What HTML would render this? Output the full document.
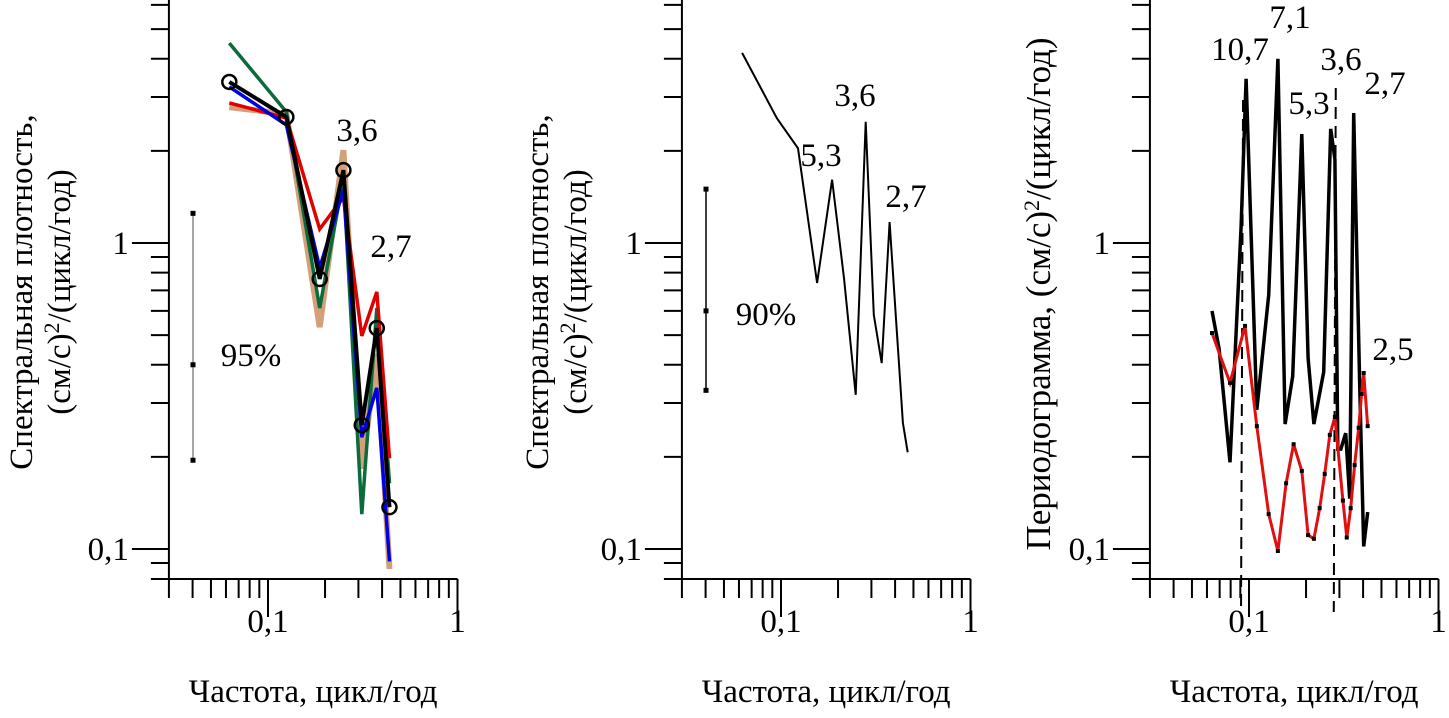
<!DOCTYPE html>
<html><head><meta charset="utf-8"><style>
body{margin:0;background:#fff;}
svg text{font-family:"Liberation Serif",serif;fill:#000;}
</style></head><body>
<svg id="chart" width="1449" height="713" viewBox="0 0 1449 713" xmlns="http://www.w3.org/2000/svg"></svg>
<script>
// Panel 1 data (frequency k/16 cycles/year)
const p1Freq = [0.0625, 0.125, 0.1875, 0.25, 0.3125, 0.375, 0.4375];
const p1Tan = [2.78, 2.64, 0.531, 2.01, 0.183, 0.434, 0.086];
const p1Green = [4.50, 2.68, 0.613, 1.62, 0.130, 0.613, 0.164];
const p1Red = [2.87, 2.56, 1.11, 1.41, 0.497, 0.692, 0.198];
const p1Blue = [3.24, 2.43, 0.829, 1.49, 0.232, 0.336, 0.091];
const p1Black = [3.36, 2.58, 0.763, 1.73, 0.254, 0.527, 0.137];
const p1Err = [1.25, 0.40, 0.195];
// Panel 2 data
const p2Freq = [0.0623, 0.095, 0.123, 0.155, 0.186, 0.215, 0.248, 0.280, 0.309, 0.340, 0.374, 0.44, 0.466];
const p2Vals = [4.18, 2.56, 2.04, 0.740, 1.61, 0.768, 0.319, 2.49, 0.582, 0.405, 1.17, 0.258, 0.207];
const p2Err = [1.5, 0.60, 0.33];
// Panel 3 data
const p3BlackFreq = [0.0638, 0.0695, 0.0794, 0.0908, 0.0965, 0.110, 0.127, 0.142, 0.155, 0.170, 0.190, 0.205, 0.220, 0.248, 0.270, 0.284, 0.294, 0.305, 0.324, 0.340, 0.357, 0.384, 0.403, 0.423];
const p3BlackVals = [0.600, 0.451, 0.192, 1.13, 3.44, 0.285, 0.676, 4.0, 0.256, 0.367, 2.27, 0.421, 0.256, 0.379, 2.36, 1.88, 0.212, 0.212, 0.239, 0.146, 2.66, 0.343, 0.102, 0.132];
const p3RedFreq = [0.0638, 0.0794, 0.0953, 0.110, 0.127, 0.142, 0.157, 0.172, 0.190, 0.205, 0.220, 0.236, 0.251, 0.267, 0.284, 0.313, 0.328, 0.344, 0.361, 0.379, 0.393, 0.403, 0.423];
const p3RedVals = [0.508, 0.349, 0.536, 0.252, 0.130, 0.0985, 0.164, 0.220, 0.180, 0.111, 0.108, 0.136, 0.176, 0.236, 0.270, 0.144, 0.109, 0.136, 0.188, 0.249, 0.321, 0.376, 0.252];
const p3Dashed = [0.093, 0.287];
const yMajor = [0.1, 1];
const yMajorLabels = ["0,1", "1"];
const xMajor = [0.1, 1];
const xMajorLabels = ["0,1", "1"];

const FS = 33;
const NS = "http://www.w3.org/2000/svg";
const svg = document.getElementById('chart');
function mk(tag, attrs, parent) {
  const e = document.createElementNS(NS, tag);
  for (const k in attrs) e.setAttribute(k, attrs[k]);
  (parent || svg).appendChild(e);
  return e;
}
const Y = v => 243 - 306 * Math.log10(v);
function makeX(x01) { return f => x01 + 189.5 * (Math.log10(f) + 1); }

function axes(X, name) {
  const g = mk('g', {});
  
  
  const x0 = X(0.03), x1 = X(1), yb = 579;
  mk('line', {x1: x0, y1: 0, x2: x0, y2: yb, stroke: '#000', 'stroke-width': 2}, g);
  mk('line', {x1: x0 - 18, y1: yb, x2: x1, y2: yb, stroke: '#000', 'stroke-width': 2}, g);
  for (let d = -2; d <= 0; d++) for (let m = 1; m <= 9; m++) {
    const v = m * Math.pow(10, d);
    if (v < 0.082 || v > 6.3) continue;
    const y = Y(v);
    const len = m === 1 ? 37 : 18;
    mk('line', {x1: x0 - len, y1: y, x2: x0, y2: y, stroke: '#000', 'stroke-width': 2}, g);
  }
  yMajor.forEach((v, i) => {
    const t = mk('text', {x: x0 - 40, y: Y(v) + 11, 'font-size': FS, 'text-anchor': 'end'}, g);
    t.textContent = yMajorLabels[i];
  });
  for (let d = -2; d <= 0; d++) for (let m = 1; m <= 9; m++) {
    const f = m * Math.pow(10, d);
    if (f < 0.0299 || f > 1.001) continue;
    const x = X(f);
    const len = m === 1 ? 38 : 19;
    mk('line', {x1: x, y1: yb, x2: x, y2: yb + len, stroke: '#000', 'stroke-width': 2}, g);
  }
  xMajor.forEach((f, i) => {
    const t = mk('text', {x: X(f), y: 632, 'font-size': FS, 'text-anchor': 'middle'}, g);
    t.textContent = xMajorLabels[i];
  });
  const xl = mk('text', {x: (X(0.03) + X(1)) / 2, y: 702, 'font-size': FS, 'text-anchor': 'middle'}, g);
  xl.textContent = 'Частота, цикл/год';
  
  
}
function line(X, fs, vs, color, w, name) {
  const pts = fs.map((f, i) => X(f).toFixed(1) + ',' + Y(vs[i]).toFixed(1)).join(' ');
  const p = mk('polyline', {points: pts, fill: 'none', stroke: color, 'stroke-width': w, 'stroke-linejoin': 'miter'});
  
  
  return p;
}
function ylab(x, y, lines, fs) {
  const t = mk('text', {transform: `translate(${x},${y}) rotate(-90)`, 'font-size': fs, 'text-anchor': 'middle'});
  
  
  lines.forEach((s, i) => {
    const ts = mk('tspan', {x: 0, dy: i === 0 ? 0 : 38}, t);
    ts.innerHTML = s;
  });
}
function label(x, y, s, name) {
  const t = mk('text', {x: x, y: y, 'font-size': FS, 'text-anchor': 'middle'});
  t.textContent = s;
  
  
}
function errbar(x, vals, color, name) {
  const g = mk('g', {});
  
  
  mk('line', {x1: x, y1: Y(vals[0]), x2: x, y2: Y(vals[2]), stroke: color, 'stroke-width': 1.5}, g);
  vals.forEach(v => mk('rect', {x: x - 2.5, y: Y(v) - 2.5, width: 5, height: 5, fill: '#000'}, g));
}
const sup = '(см/с)<tspan dy="-11" font-size="22">2</tspan><tspan dy="11">/(цикл/год)</tspan>';

// Panel 1
const X1 = makeX(268);
axes(X1, 'panel1');
ylab(32, 292, ['Спектральная плотность,', sup], FS);
line(X1, p1Freq, p1Tan, '#d4a07a', 6, 'tan-series');
line(X1, p1Freq, p1Green, '#0b6b3a', 3.5, 'green-series');
line(X1, p1Freq, p1Red, '#e00000', 3.5, 'red-series');
line(X1, p1Freq, p1Blue, '#0000e0', 3.5, 'blue-series');
line(X1, p1Freq, p1Black, '#000', 4, 'black-series');
p1Freq.forEach((f, i) => {
  const c = mk('circle', {cx: X1(f), cy: Y(p1Black[i]), r: 7, fill: 'none', stroke: '#000', 'stroke-width': 2.5});
  
  
});
errbar(193, p1Err, '#888', 'confidence-bar-95');
label(357, 141, '3,6', 'peak-label-3-6');
label(391, 257, '2,7', 'peak-label-2-7');
label(251, 366, '95%', 'confidence-label');

// Panel 2
const X2 = makeX(781);
axes(X2, 'panel2');
ylab(548, 292, ['Спектральная плотность,', sup], FS);
line(X2, p2Freq, p2Vals, '#000', 2, 'spectrum-series');
errbar(706, p2Err, '#000', 'confidence-bar-90');
label(855, 106, '3,6', 'peak-label-3-6');
label(821, 166, '5,3', 'peak-label-5-3');
label(906, 207, '2,7', 'peak-label-2-7');
label(766, 325, '90%', 'confidence-label');

// Panel 3
const X3 = makeX(1249);
axes(X3, 'panel3');
ylab(1050, 294, ['Периодограмма, ' + sup], 35);
p3Dashed.forEach((f, i) => {
  const l = mk('line', {x1: X3(f), y1: i === 0 ? 100 : 88, x2: X3(f) - 2, y2: 612, stroke: '#000', 'stroke-width': 2, 'stroke-dasharray': '12,7'});
  
  
});
line(X3, p3BlackFreq, p3BlackVals, '#000', 3.5, 'periodogram-black');
line(X3, p3RedFreq, p3RedVals, '#e01010', 3, 'periodogram-red');
p3RedFreq.forEach((f, i) => {
  const d = mk('rect', {x: X3(f) - 2, y: Y(p3RedVals[i]) - 2, width: 4, height: 4, fill: '#000'});
  
  
});
label(1240, 60, '10,7', 'peak-label-10-7');
label(1290, 28, '7,1', 'peak-label-7-1');
label(1309, 114, '5,3', 'peak-label-5-3');
label(1341, 70, '3,6', 'peak-label-3-6');
label(1385, 94, '2,7', 'peak-label-2-7');
label(1393, 360, '2,5', 'peak-label-2-5');
</script>
</body></html>
